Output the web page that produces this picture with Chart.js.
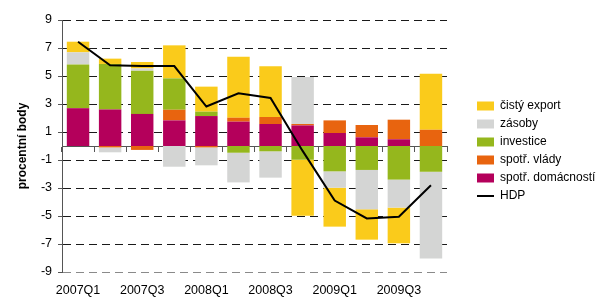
<!DOCTYPE html>
<html>
<head>
<meta charset="utf-8">
<script src="https://cdn.jsdelivr.net/npm/chart.js@4/dist/chart.umd.min.js"></script>
<style>
html,body{margin:0;padding:0;background:#fff}
#wrap{width:596px;height:297px;position:relative}
</style>
</head>
<body>
<div id="wrap"><canvas id="c"></canvas></div>
<script>
const categories = ['2007Q1','2007Q2','2007Q3','2007Q4','2008Q1','2008Q2','2008Q3','2008Q4','2009Q1','2009Q2','2009Q3','2009Q4'];
const spotrDomacnosti = [2.70, 2.61, 2.29, 1.83, 2.14, 1.74, 1.57, 1.47, 0.93, 0.62, 0.48, 0.00];
const spotrVlady      = [0.00, -0.10, -0.28, 0.76, -0.10, 0.28, 0.50, 0.10, 0.90, 0.88, 1.40, 1.16];
const investice       = [3.13, 3.25, 3.09, 2.24, 0.31, -0.48, -0.38, -0.98, -1.81, -1.71, -2.40, -1.84];
const zasoby          = [0.86, -0.35, 0.16, -1.48, -1.28, -2.12, -1.88, 3.36, -1.17, -2.81, -2.00, -6.19];
const cistyExport     = [0.76, 0.38, 0.46, 2.36, 1.79, 4.36, 3.62, -4.00, -2.78, -2.17, -2.55, 4.00];
const hdp             = [7.45, 5.76, 5.72, 5.71, 2.82, 3.76, 3.43, -0.35, -3.90, -5.17, -5.05, -2.81];
const yTicksMin = -9, yTicksMax = 9, yTickStep = 2;

Chart.defaults.font.family = "'Liberation Sans', Arial, sans-serif";
Chart.defaults.color = '#000';

function bar(label, data, color) {
  return { type: 'bar', label: label, data: data, backgroundColor: color, borderWidth: 0,
           stack: 's', barPercentage: 0.7, categoryPercentage: 1, order: 1 };
}

const datasets = [
  bar('spotř. domácností', spotrDomacnosti, '#B4005B'),
  bar('spotř. vlády', spotrVlady, '#E8640F'),
  bar('investice', investice, '#95B71D'),
  bar('zásoby', zasoby, '#D4D5D4'),
  bar('čistý export', cistyExport, '#FACB1B'),
  { type: 'line', label: 'HDP', data: hdp, borderColor: '#000', backgroundColor: '#000', borderWidth: 2,
    pointRadius: 0, tension: 0, stack: 'hdp', order: 0 }
];
const lineIndex = 5;

const defaultGen = Chart.defaults.plugins.legend.labels.generateLabels;

new Chart(document.getElementById('c'), {
  data: { labels: categories, datasets: datasets },
  options: {
    responsive: true, maintainAspectRatio: false, animation: false,
    layout: { padding: { top: 5, right: 0, bottom: 0, left: 0 } },
    plugins: {
      tooltip: { enabled: false },
      legend: {
        position: 'right',
        maxWidth: 125,
        labels: {
          usePointStyle: true, pointStyleWidth: 17, boxHeight: 9, padding: 6,
          font: { size: 12 }, color: '#000',
          generateLabels: function (chart) {
            const items = defaultGen(chart);
            items.forEach(function (it) {
              if (it.datasetIndex === lineIndex) {
                it.pointStyle = 'line'; it.lineWidth = 2; it.strokeStyle = '#000';
              } else {
                it.pointStyle = 'rect'; it.lineWidth = 0;
              }
            });
            return items;
          },
          sort: function (a, b) {
            const r = function (it) { return it.datasetIndex === lineIndex ? 100 : -it.datasetIndex; };
            return r(a) - r(b);
          }
        }
      }
    },
    scales: {
      x: {
        stacked: true, offset: true,
        grid: { display: false, drawTicks: false },
        border: { display: false },
        ticks: {
          autoSkip: false, maxRotation: 0, padding: 11, font: { size: 12.5 }, color: '#000',
          callback: function (v, i) { return i % 2 === 0 ? this.getLabelForValue(v) : ''; }
        },
        afterFit: function (s) { s.height = 25; }
      },
      x2: {
        type: 'category', axis: 'x', position: { y: 0 }, offset: true,
        grid: { display: true, drawOnChartArea: false, drawTicks: true, tickLength: 5, tickColor: '#555', tickWidth: 1, offset: true, color: '#555' },
        border: { display: true, color: '#555', width: 1 },
        ticks: { display: false }
      },
      xt: {
        type: 'category', axis: 'x', position: 'top', display: true,
        grid: { display: false, drawTicks: false }, border: { display: false },
        ticks: { display: false },
        afterFit: function (s) { s.height = 15; }
      },
      y: {
        stacked: true, min: yTicksMin, max: yTicksMax,
        ticks: { stepSize: yTickStep, padding: 6, font: { size: 12.5 }, color: '#000' },
        grid: {
          color: function (c) { return c.tick && c.tick.value === yTicksMin ? '#8a8a8a' : '#1a1a1a'; },
          lineWidth: 1, drawTicks: true, tickLength: 4, tickColor: '#555', tickWidth: 1, tickBorderDash: []
        },
        border: { display: true, color: '#555', width: 1, dash: [8, 5] },
        title: { display: true, text: 'procentní body', font: { size: 12, weight: 'bold' }, padding: { top: 15, bottom: 0 }, color: '#000' },
        afterFit: function (s) { s.width = 62; }
      },
      yR: {
        type: 'linear', position: 'right', display: true,
        grid: { display: false, drawTicks: false }, border: { display: false },
        ticks: { display: false },
        afterFit: function (s) { s.width = 24; }
      }
    }
  }
});
</script>
</body>
</html>
